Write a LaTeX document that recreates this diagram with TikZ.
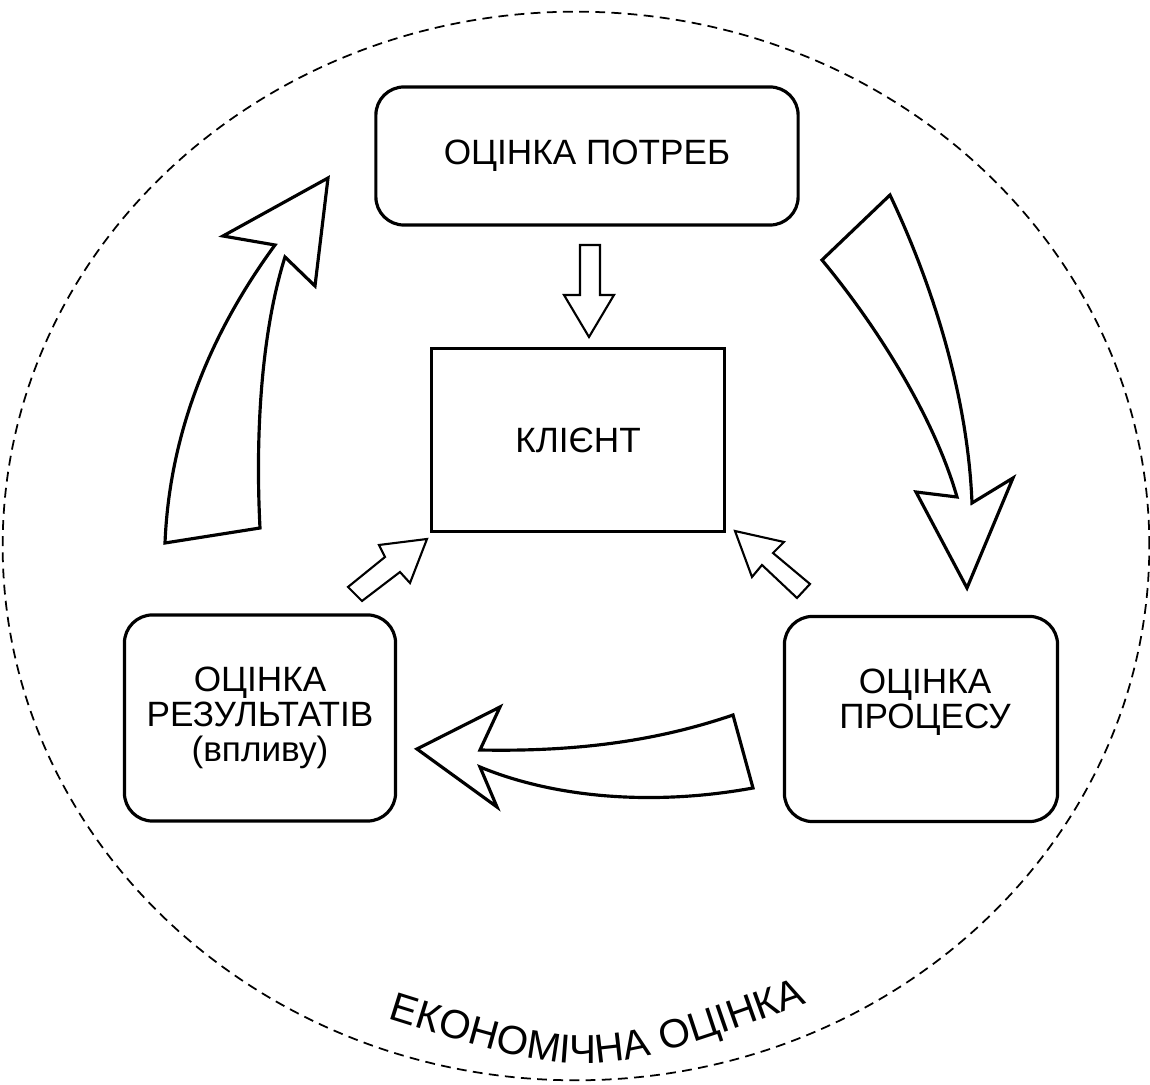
\documentclass[tikz,border=0pt]{standalone}
\usepackage{fontspec}
\setmainfont{Liberation Sans}
\usetikzlibrary{decorations.text}
\begin{document}
\begin{tikzpicture}[x=0.01cm,y=-0.01cm,
    stage/.style={draw,line width=0.9pt,rounded corners=8pt,align=center,
        font=\fontsize{10}{10}\selectfont},
    bigarrow/.style={draw,line width=0.9pt,fill=white,line join=miter},
    smallarrow/.style={draw,line width=0.6pt,fill=white,line join=miter}]
    \useasboundingbox (0,0) rectangle (1150,1085);
    \draw[line width=0.5pt,dash pattern=on 2.8pt off 1.8pt] (576,546) ellipse [x radius=5.73cm,y radius=5.34cm];
    \node[stage,minimum width=4.22cm,minimum height=1.38cm] (needs) at (587,156) {ОЦІНКА ПОТРЕБ};
    \node[draw,line width=0.9pt,minimum width=2.92cm,minimum height=1.83cm,font=\fontsize{10}{10}\selectfont] (client) at (578,440) {КЛІЄНТ};
    \node[stage,minimum width=2.71cm,minimum height=2.06cm] (results) at (260,718) {ОЦІНКА\\РЕЗУЛЬТАТІВ\\(впливу)};
    \node[stage,minimum width=2.73cm,minimum height=2.05cm] (process) at (921,719) {};
    \node[align=center,font=\fontsize{10}{10}\selectfont] (processtext) at (925,702) {ОЦІНКА\\ПРОЦЕСУ};
    \draw[bigarrow] (890,195) -- (822,260) .. controls (880,330) and (935,420) .. (957,497)
        -- (916,492) -- (967,588) -- (1013,478) -- (972,503)
        .. controls (968,400) and (935,290) .. (890,195) -- cycle;
    \draw[bigarrow] (733,715) -- (753,788) .. controls (660,805) and (560,800) .. (480,767)
        -- (497,807) -- (417,749) -- (500,707) -- (480,750)
        .. controls (580,752) and (660,740) .. (733,715) -- cycle;
    \draw[bigarrow] (165,543) -- (260,528) .. controls (255,430) and (262,330) .. (285,257)
        -- (315,286) -- (328,178) -- (223,236) -- (275,245)
        .. controls (220,320) and (170,420) .. (165,543) -- cycle;
    \draw[smallarrow] (580,245) -- (600,245) -- (600,295) -- (614,295) -- (589,337) -- (564,295) -- (580,295) -- cycle;
    \draw[smallarrow] (362,601) -- (400,572) -- (410,583) -- (427,539) -- (379,545) -- (385,557) -- (348,587) -- cycle;
    \draw[smallarrow] (735,531) -- (784,542) -- (773,553) -- (810,584) -- (797,598) -- (762,565) -- (752,577) -- cycle;
    \path[decorate,decoration={text along path,text align=center,
        text={|\fontsize{11.5}{13}\selectfont|ЕКОНОМІЧНА ОЦІНКА}}]
        (380,1016) .. controls (590,1082) .. (815,1000);
\end{tikzpicture}
\end{document}
